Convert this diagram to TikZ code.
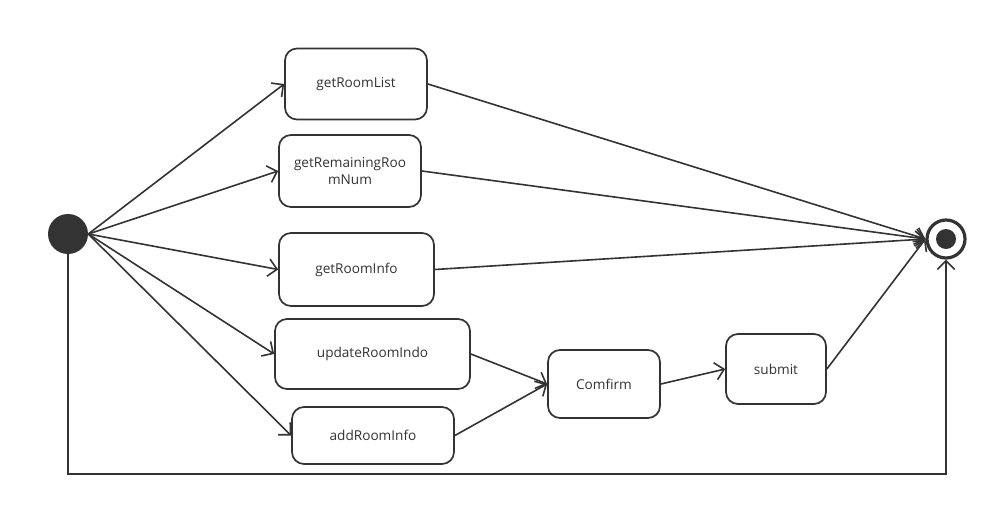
\documentclass[tikz,border=0pt]{standalone}
\usepackage{fontspec}
\setmainfont{Open Sans}
\usetikzlibrary{arrows.meta,calc}
\definecolor{ink}{HTML}{333333}
\begin{document}
\begin{tikzpicture}[x=0.75pt,y=-0.75pt,
  state/.style={draw=ink,line width=1.3pt,rounded corners=9pt,fill=white,
    inner sep=0pt,align=center,font=\fontsize{10.2}{13}\selectfont,text=ink},
  flow/.style={draw=ink,line width=1.2pt,-{Straight Barb[length=6.5pt,width=13pt,line width=1.2pt]}},
  plain/.style={draw=ink,line width=1.2pt}]
\useasboundingbox (0,0) rectangle (998,506);
\node[circle,fill=ink,minimum size=40*0.75pt,inner sep=0pt] (start) at (68,234) {};
\node[circle,draw=ink,line width=2.4pt,fill=white,minimum size=38*0.75pt,inner sep=0pt] (end) at (946,239) {};
\fill[ink] (end.center) circle (10*0.75pt);
\node[state,minimum width=142*0.75pt,minimum height=71*0.75pt] (a) at (356,84) {getRoomList};
\node[state,minimum width=142*0.75pt,minimum height=72*0.75pt] (b) at (350,171) {getRemainingRoo\\mNum};
\node[state,minimum width=155*0.75pt,minimum height=73*0.75pt] (c) at (356.5,269.5) {getRoomInfo};
\node[state,minimum width=195*0.75pt,minimum height=70*0.75pt] (d) at (372.5,354) {updateRoomIndo};
\node[state,minimum width=162*0.75pt,minimum height=57*0.75pt] (e) at (373,435.5) {addRoomInfo};
\node[state,minimum width=112*0.75pt,minimum height=68*0.75pt] (f) at (604,384) {Comfirm};
\node[state,minimum width=100*0.75pt,minimum height=70*0.75pt] (g) at (776,369) {submit};
\draw[flow] (start.east) -- (a.west);
\draw[flow] (start.east) -- (b.west);
\draw[flow] (start.east) -- (c.west);
\draw[flow] (start.east) -- (d.west);
\draw[flow] (start.east) -- (e.west);
\draw[flow] (a.east) -- (end.west);
\draw[flow] (b.east) -- (end.west);
\draw[flow] (c.east) -- (end.west);
\draw[flow] (d.east) -- (f.west);
\draw[flow] (e.east) -- (f.west);
\draw[flow] (f.east) -- (g.west);
\draw[flow] (g.east) -- (end.west);
\coordinate (bl) at (68,474);
\coordinate (br) at (946,474);
\draw[flow] (start.south) -- (bl) -- (br) -- (end.south);
\end{tikzpicture}
\end{document}
